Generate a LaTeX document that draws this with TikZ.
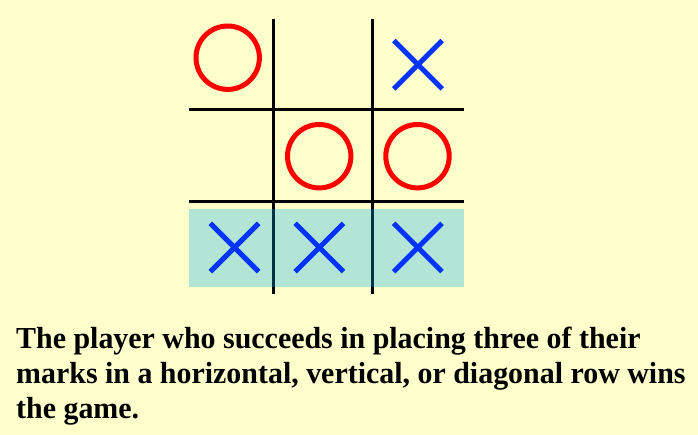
\documentclass[tikz,border=0pt]{standalone}
\usepackage{fontspec}
\usepackage{graphicx}
\setmainfont{Liberation Serif}
\definecolor{bgyellow}{RGB}{255,255,204}
\definecolor{markred}{RGB}{255,0,0}
\definecolor{markblue}{RGB}{0,51,255}
\definecolor{winteal}{RGB}{0,170,235}
\newcommand{\captxt}[1]{\scalebox{0.981}[1]{#1}}
\tikzset{
  gridline/.style={black, line width=3pt},
  omark/.style={draw=markred, line width=5pt, circle, minimum size=63.4pt, inner sep=0pt},
  xmark/.style={markblue, line width=5pt},
  caption/.style={anchor=base west, inner sep=0pt, font=\bfseries\fontsize{30.5pt}{35pt}\selectfont}
}
\begin{document}
\begin{tikzpicture}[x=1pt,y=-1pt]
\fill[bgyellow] (0,0) rectangle (698,435);
\useasboundingbox (0,0) rectangle (698,435);
% grid
\draw[gridline] (273.3,19) -- (273.3,294);
\draw[gridline] (372.3,19) -- (372.3,294);
\draw[gridline] (189,110) -- (464,110);
\draw[gridline] (189,201.3) -- (464,201.3);
% winning row highlight
\fill[winteal, fill opacity=0.3] (189,209) rectangle (464,286.7);
% O marks
\node[omark] (o1) at (227.7,57.7) {};
\node[omark] (o2) at (319.2,156.2) {};
\node[omark] (o3) at (417.5,156.2) {};
% X marks
\foreach \n/\cx/\cy in {x1/418/64.7, x2/234.5/247.5, x3/319.3/247.5, x4/417.8/247.5}{
  \coordinate (\n) at (\cx,\cy);
  \draw[xmark] ([shift={(-24.2,-24.2)}]\n) -- ([shift={(24.2,24.2)}]\n);
  \draw[xmark] ([shift={(-24.2,24.2)}]\n) -- ([shift={(24.2,-24.2)}]\n);
}
% caption
\node[caption] (t1) at (16,348) {\captxt{The player who succeeds in placing three of their}};
\node[caption] (t2) at (16,383) {\captxt{marks in a horizontal, vertical, or diagonal row wins}};
\node[caption] (t3) at (16,418) {\captxt{the game.}};
\end{tikzpicture}
\end{document}
